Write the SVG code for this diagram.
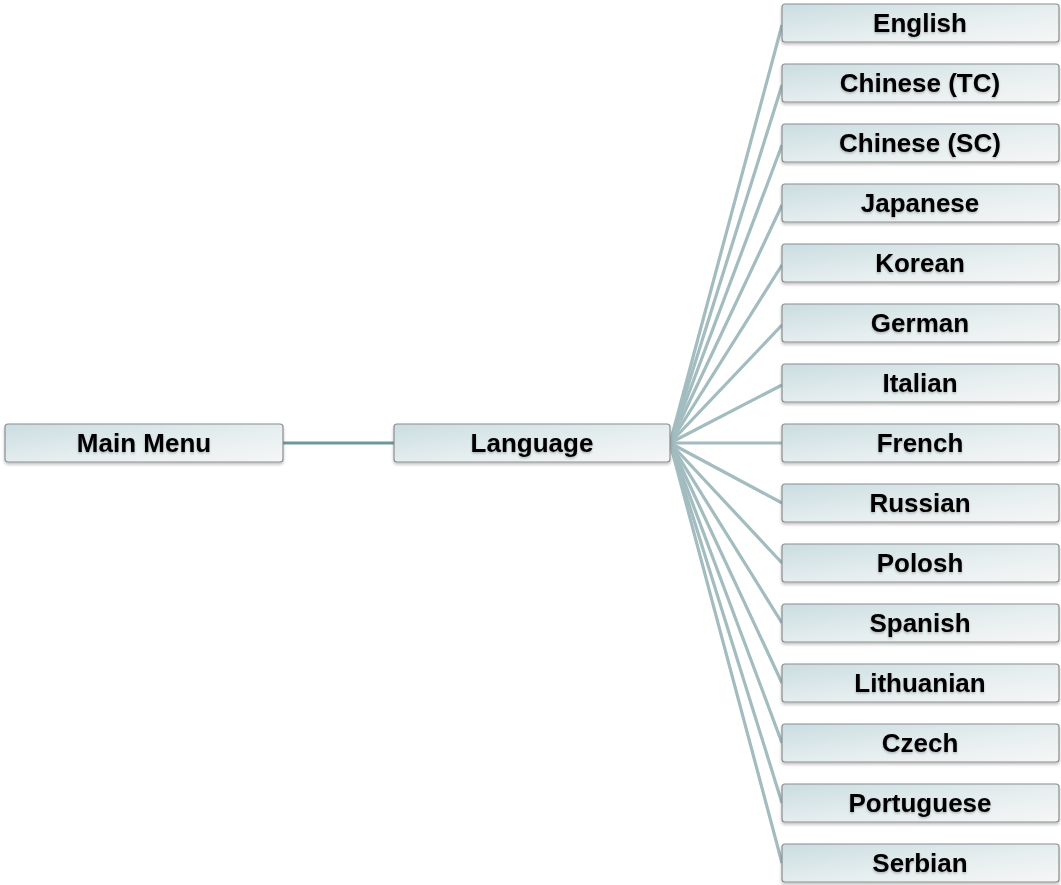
<svg xmlns="http://www.w3.org/2000/svg" width="1061" height="885" viewBox="0 0 1061 885">
<style>
.box{fill:url(#g);stroke:#8c8e8f;stroke-width:1.2;filter:url(#sh)}
.t{font-family:"Liberation Sans",Arial,sans-serif;font-weight:bold;font-size:26px;fill:#000;text-anchor:middle;filter:url(#ts)}
.c{stroke:#a2bcbf;stroke-width:3.2;fill:none}
.m{stroke:#6c979d;stroke-width:3;fill:none}
</style>
<defs>
<linearGradient id="g" x1="0" y1="0" x2="1" y2="1">
<stop offset="0" stop-color="#cadde1"/>
<stop offset="0.55" stop-color="#e6eeef"/>
<stop offset="1" stop-color="#f6f6f6"/>
</linearGradient>
<filter id="sh" x="-5%" y="-20%" width="110%" height="150%">
<feDropShadow dx="0" dy="2" stdDeviation="1.5" flood-color="#000" flood-opacity="0.25"/>
</filter>
<filter id="ts" x="-5%" y="-20%" width="110%" height="150%">
<feDropShadow dx="0" dy="1.5" stdDeviation="1" flood-color="#000" flood-opacity="0.25"/>
</filter>
</defs>
<g id="connectors">
<line class="m" x1="283" y1="443" x2="394" y2="443"/>
<line class="c" x1="670" y1="443" x2="782" y2="25"/>
<line class="c" x1="670" y1="443" x2="782" y2="85"/>
<line class="c" x1="670" y1="443" x2="782" y2="145"/>
<line class="c" x1="670" y1="443" x2="782" y2="205"/>
<line class="c" x1="670" y1="443" x2="782" y2="265"/>
<line class="c" x1="670" y1="443" x2="782" y2="325"/>
<line class="c" x1="670" y1="443" x2="782" y2="385"/>
<line class="c" x1="670" y1="443" x2="782" y2="443"/>
<line class="c" x1="670" y1="443" x2="782" y2="503"/>
<line class="c" x1="670" y1="443" x2="782" y2="563"/>
<line class="c" x1="670" y1="443" x2="782" y2="623"/>
<line class="c" x1="670" y1="443" x2="782" y2="683"/>
<line class="c" x1="670" y1="443" x2="782" y2="743"/>
<line class="c" x1="670" y1="443" x2="782" y2="803"/>
<line class="c" x1="670" y1="443" x2="782" y2="863"/>
</g>
<g id="main-menu"><rect class="box" x="5" y="424" width="278" height="38" rx="3"/><text class="t" x="144" y="452">Main Menu</text></g>
<g id="language"><rect class="box" x="394" y="424" width="276" height="38" rx="3"/><text class="t" x="532" y="452">Language</text></g>
<g id="english"><rect class="box" x="782" y="4" width="277" height="38" rx="3"/><text class="t" x="920" y="32">English</text></g>
<g id="chinese-tc"><rect class="box" x="782" y="64" width="277" height="38" rx="3"/><text class="t" x="920" y="92">Chinese (TC)</text></g>
<g id="chinese-sc"><rect class="box" x="782" y="124" width="277" height="38" rx="3"/><text class="t" x="920" y="152">Chinese (SC)</text></g>
<g id="japanese"><rect class="box" x="782" y="184" width="277" height="38" rx="3"/><text class="t" x="920" y="212">Japanese</text></g>
<g id="korean"><rect class="box" x="782" y="244" width="277" height="38" rx="3"/><text class="t" x="920" y="272">Korean</text></g>
<g id="german"><rect class="box" x="782" y="304" width="277" height="38" rx="3"/><text class="t" x="920" y="332">German</text></g>
<g id="italian"><rect class="box" x="782" y="364" width="277" height="38" rx="3"/><text class="t" x="920" y="392">Italian</text></g>
<g id="french"><rect class="box" x="782" y="424" width="277" height="38" rx="3"/><text class="t" x="920" y="452">French</text></g>
<g id="russian"><rect class="box" x="782" y="484" width="277" height="38" rx="3"/><text class="t" x="920" y="512">Russian</text></g>
<g id="polosh"><rect class="box" x="782" y="544" width="277" height="38" rx="3"/><text class="t" x="920" y="572">Polosh</text></g>
<g id="spanish"><rect class="box" x="782" y="604" width="277" height="38" rx="3"/><text class="t" x="920" y="632">Spanish</text></g>
<g id="lithuanian"><rect class="box" x="782" y="664" width="277" height="38" rx="3"/><text class="t" x="920" y="692">Lithuanian</text></g>
<g id="czech"><rect class="box" x="782" y="724" width="277" height="38" rx="3"/><text class="t" x="920" y="752">Czech</text></g>
<g id="portuguese"><rect class="box" x="782" y="784" width="277" height="38" rx="3"/><text class="t" x="920" y="812">Portuguese</text></g>
<g id="serbian"><rect class="box" x="782" y="844" width="277" height="38" rx="3"/><text class="t" x="920" y="872">Serbian</text></g>
</svg>
